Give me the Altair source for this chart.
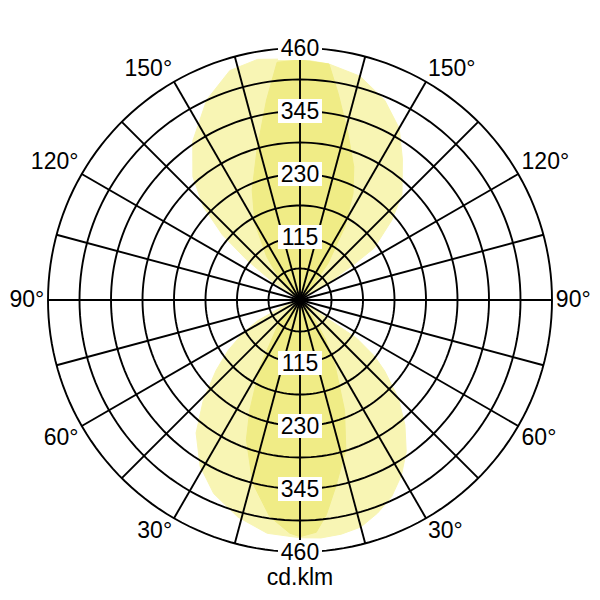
import altair as alt
import pandas as pd
import numpy as np

# Luminous intensity (cd/klm). Angle measured from nadir (0 = down),
# through the right half (90) to zenith (180) and the left half (270).
wide_angles = [0, 5, 10, 15, 20, 25, 30, 35, 40, 45, 50, 53, 56, 90,
               121, 123.5, 125, 131, 136, 144, 150, 157, 165, 173, 180,
               190, 197, 205, 214, 221, 226, 230, 233, 236, 239, 270,
               292, 296, 300, 305, 310, 316, 322, 329, 336, 344, 352]
wide_values = [434, 436, 434, 429, 414, 396, 370, 338, 298, 254, 202, 170, 125, 0,
               60, 120, 165, 222, 268, 318, 362, 396, 423, 434, 440,
               446, 438, 403, 350, 298, 245, 185, 122, 66, 0, 0,
               40, 85, 120, 160, 200, 254, 308, 354, 387, 412, 430]

narrow_angles = [0, 4, 7, 11, 17, 22, 28, 33, 37, 42, 90,
                 132, 136, 142.5, 148.5, 153.5, 158, 164, 169.5, 173, 180,
                 185.5, 189.5, 196, 203.5, 210.5, 217.5, 225, 232, 270,
                 308, 315, 329, 335.5, 339, 345.5, 352, 357.5]
narrow_values = [432, 425, 395, 345, 286, 217, 137, 85, 46, 0, 0,
                 0, 27, 84, 157, 217, 262, 317, 383, 434, 438,
                 436, 370, 285, 219, 162, 100, 51, 0, 0,
                 0, 51, 142, 221, 273, 345, 399, 426]

ring_values = [57.5, 115, 172.5, 230, 287.5, 345, 402.5, 460]
ring_label_values = [115, 230, 345, 460]
spoke_angles = list(range(0, 360, 15))
angle_label_values = [30, 60, 90, 120, 150]
unit_label = "cd.klm"

RMAX = 460
FONT = "Liberation Sans"
FS = 23
xs = alt.Scale(domain=[-RMAX, RMAX], nice=False, zero=False)
ys = alt.Scale(domain=[-RMAX, RMAX], nice=False, zero=False)

XY = dict(x="datum.value * sin(datum.angle * PI / 180)",
          y="-datum.value * cos(datum.angle * PI / 180)")


def enc(**kw):
    return dict(x=alt.X("x:Q", scale=xs, axis=None),
                y=alt.Y("y:Q", scale=ys, axis=None), **kw)


def lobe(angles, values, color):
    df = pd.DataFrame({"angle": angles, "value": values})
    return alt.Chart(df).transform_calculate(**XY).mark_line(
        interpolate="linear-closed", fill=color, stroke=color, strokeWidth=1
    ).encode(**enc(order=alt.Order("angle:Q")))


wide = lobe(wide_angles, wide_values, "#f8f5b4")
narrow = lobe(narrow_angles, narrow_values, "#f0ec86")

circle_steps = np.arange(0, 360, 2)
rings_df = pd.DataFrame([(v, a) for v in ring_values for a in circle_steps],
                        columns=["value", "angle"])
rings = alt.Chart(rings_df).transform_calculate(**XY).mark_line(
    interpolate="linear-closed", color="black", strokeWidth=1.9
).encode(**enc(detail="value:N", order=alt.Order("angle:Q")))

spokes_df = pd.DataFrame({"angle": spoke_angles, "value": RMAX})
spokes = alt.Chart(spokes_df).transform_calculate(
    x0="0", y0="0", **XY
).mark_rule(color="black", strokeWidth=1.9).encode(
    x=alt.X("x0:Q", scale=xs, axis=None),
    y=alt.Y("y0:Q", scale=ys, axis=None),
    x2="x:Q", y2="y:Q")

rl_df = pd.DataFrame(
    [{"value": v, "side": s, "label": str(v)} for v in ring_label_values for s in (1, -1)])
rl_base = alt.Chart(rl_df).transform_calculate(x="0", y="datum.side * datum.value")
boxes = rl_base.mark_point(
    shape="M-1,-0.55L1,-0.55L1,0.55L-1,0.55Z", size=1936, filled=True,
    fill="white", opacity=1, strokeWidth=0
).encode(**enc())
rl_text = rl_base.mark_text(font=FONT, fontSize=FS, color="black",
                            baseline="middle", align="center", dy=1).encode(
    **enc(text="label:N"))

ang_df = pd.DataFrame({"a": angle_label_values,
                       "label": [f"{a}°" for a in angle_label_values]})
LR = 467
SHIFT = 18


def angle_labels(sign, align):
    return alt.Chart(ang_df).transform_calculate(
        x=f"{sign} * {LR} * sin(datum.a * PI / 180)",
        y=f"-{LR} * cos(datum.a * PI / 180) + (datum.a > 90 ? {SHIFT} : datum.a < 90 ? -{SHIFT} : 0)"
    ).mark_text(font=FONT, fontSize=FS, color="black", baseline="middle",
                align=align).encode(**enc(text="label:N"))


ang_right = angle_labels(1, "left")
ang_left = angle_labels(-1, "right")

unit = alt.Chart(pd.DataFrame({"t": [unit_label]})).mark_text(
    font=FONT, fontSize=FS, color="black", baseline="middle", align="center"
).encode(x=alt.datum(0, scale=xs), y=alt.datum(-507, scale=ys), text="t:N")

chart = alt.layer(wide, narrow, rings, spokes, boxes, rl_text, ang_right, ang_left, unit).properties(
    width=504, height=504, padding=40,
    autosize=alt.AutoSizeParams(type="none"),
    background="white",
).configure_view(strokeWidth=0)

chart.save("out.html", embed_options={"renderer": "svg", "actions": False})
